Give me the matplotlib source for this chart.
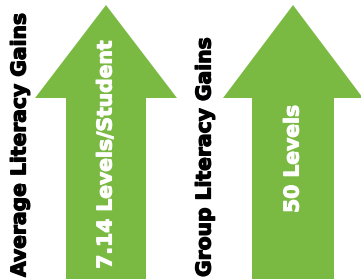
import matplotlib.pyplot as plt
from matplotlib.patches import Polygon
import matplotlib.patheffects as pe

# Data
titles = ["Average Literacy Gains", "Group Literacy Gains"]
values = ["7.14 Levels/Student", "50 Levels"]

# Layout (pixel coords)
title_x = [20, 205]
title_y = [277, 277]
arrow_cx = [106, 293]
head_half = [71, 70]
shaft_half = [40, 41]
value_y = [[271, 38], [213, 105]]
green = "#7aba42"

fig = plt.figure(figsize=(3.61, 2.79), dpi=100)
ax = fig.add_axes([0, 0, 1, 1])
ax.set_xlim(0, 361)
ax.set_ylim(279, 0)
ax.axis("off")

for i in range(len(titles)):
    cx = arrow_cx[i]
    pts = [(cx, 5), (cx + head_half[i], 98), (cx + shaft_half[i], 98),
           (cx + shaft_half[i], 280), (cx - shaft_half[i], 280),
           (cx - shaft_half[i], 98), (cx - head_half[i], 98)]
    ax.add_patch(Polygon(pts, closed=True, color=green, lw=0))
    ax.text(title_x[i], title_y[i], titles[i], rotation=90, ha="center", va="bottom",
            fontsize=14.6, fontweight="bold", color="black", family="DejaVu Sans",
            path_effects=[pe.withStroke(linewidth=0.9, foreground="black")])
    y0, y1 = value_y[i]
    ax.text(cx, (y0 + y1) / 2, values[i], rotation=90, ha="center", va="center",
            fontsize=14.6, fontweight="bold", color="white", family="DejaVu Sans",
            path_effects=[pe.withStroke(linewidth=0.8, foreground="white")])

fig.savefig("out.png", dpi=100)
